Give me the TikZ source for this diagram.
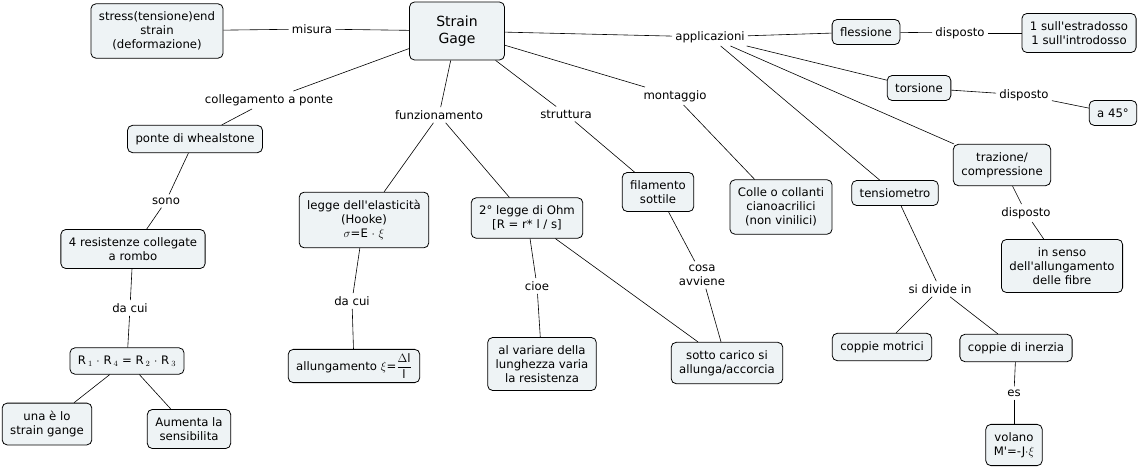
\documentclass[tikz,border=0pt]{standalone}
\usepackage{fontspec}
\setmainfont{DejaVu Sans}
\definecolor{conceptfill}{HTML}{EEF3F5}
\tikzstyle{concept}=[draw,rounded corners=5pt,fill=conceptfill,align=center,inner xsep=8pt,inner ysep=8pt,line width=0.8pt]
\tikzstyle{link}=[align=center,inner sep=3pt]

\begin{document}
\begin{tikzpicture}[-, x=1pt, y=-1pt, line width=0.6pt, font=\fontsize{11.7}{14}\selectfont]
		\useasboundingbox (0,0) rectangle (1142,468);
		% concepts
		\node [concept,minimum width=95pt,minimum height=58pt,font=\fontsize{14}{17}\selectfont] (gage) at (457,31) {Strain\\Gage};
		\node [concept] (stress)   at (157,31)  {stress(tensione)end\\strain\\(deformazione)};
		\node [concept] (ponte)    at (195,139) {ponte di whealstone};
		\node [concept] (rombo)    at (133,249) {4 resistenze collegate\\a rombo};
		\node [concept] (formula)  at (127,361) {R\,$_1$ $\cdot$ R\,$_4$ = R\,$_2$ $\cdot$ R\,$_3$};
		\node [concept] (unaelo)   at (47,424)  {una è lo\\strain gange};
		\node [concept] (aumenta)  at (189,429) {Aumenta la\\sensibilita};
		\node [concept] (hooke)    at (364,220) {legge dell\textquotesingle elasticità\\(Hooke)\\$\sigma$=E $\cdot$ $\xi$};
		\node [concept,inner ysep=4pt] (allung) at (354,366) {allungamento $\xi$=$\displaystyle\frac{\Delta\mbox{l}}{\mbox{l}}$};
		\node [concept] (ohm)      at (527,218) {2° legge di Ohm\\{[R = r* l / s]}};
		\node [concept] (variare)  at (542,364) {al variare della\\lunghezza varia\\la resistenza};
		\node [concept] (filam)    at (658,192) {filamento\\sottile};
		\node [concept] (carico)   at (727,363) {sotto carico si\\allunga/accorcia};
		\node [concept] (colle)    at (781,207) {Colle o collanti\\cianoacrilici\\(non vinilici)};
		\node [concept] (fless)    at (866,32)  {flessione};
		\node [concept] (estrad)   at (1079,33) {1 sull\textquotesingle estradosso\\1 sull\textquotesingle introdosso};
		\node [concept] (tors)     at (919,88)  {torsione};
		\node [concept] (a45)      at (1113,113) {a 45°};
		\node [concept] (trazione) at (1002,165) {trazione/\\compressione};
		\node [concept] (fibre)    at (1062,266) {in senso\\dell\textquotesingle allungamento\\delle fibre};
		\node [concept] (tensiom)  at (895,193) {tensiometro};
		\node [concept] (motrici)  at (882,347) {coppie motrici};
		\node [concept] (inerzia)  at (1016,348) {coppie di inerzia};
		\node [concept] (volano)   at (1014,445) {volano\\M\textquotesingle =-J$\cdot\xi$};
		% link labels
		\node [link] (misura)   at (312,29)  {misura};
		\node [link] (collpon)  at (269,100) {collegamento a ponte};
		\node [link] (sono)     at (166,201) {sono};
		\node [link] (dacui1)   at (130,308) {da cui};
		\node [link] (funz)     at (439,115) {funzionamento};
		\node [link] (dacui2)   at (352,301) {da cui};
		\node [link] (cioe)     at (537,286) {cioe};
		\node [link] (strutt)   at (566,114) {struttura};
		\node [link] (cosa)     at (702,275) {cosa\\avviene};
		\node [link] (montag)   at (675,96)  {montaggio};
		\node [link] (applic)   at (710,37)  {applicazioni};
		\node [link] (disp1)    at (960,33)  {disposto};
		\node [link] (disp2)    at (1024,95) {disposto};
		\node [link] (disp3)    at (1026,213) {disposto};
		\node [link] (divide)   at (940,289) {si divide in};
		\node [link] (es)       at (1014,393) {es};

		\draw (gage)     edge (misura);
		\draw (misura)   edge (stress);
		\draw (gage)     edge (collpon);
		\draw (collpon)  edge (ponte);
		\draw (ponte)    edge (sono);
		\draw (sono)     edge (rombo);
		\draw (rombo)    edge (dacui1);
		\draw (dacui1)   edge (formula);
		\draw (formula)  edge (unaelo);
		\draw (formula)  edge (aumenta);
		\draw (gage)     edge (funz);
		\draw (funz)     edge (hooke);
		\draw (funz)     edge (ohm);
		\draw (hooke)    edge (dacui2);
		\draw (dacui2)   edge (allung);
		\draw (ohm)      edge (cioe);
		\draw (cioe)     edge (variare);
		\draw (ohm)      edge (carico);
		\draw (gage)     edge (strutt);
		\draw (strutt)   edge (filam);
		\draw (filam)    edge (cosa);
		\draw (cosa)     edge (carico);
		\draw (gage)     edge (montag);
		\draw (montag)   edge (colle);
		\draw (gage)     edge (applic);
		\draw (applic)   edge (fless);
		\draw (applic)   edge (tors);
		\draw (applic)   edge (trazione);
		\draw (applic)   edge (tensiom);
		\draw (fless)    edge (disp1);
		\draw (disp1)    edge (estrad);
		\draw (tors)     edge (disp2);
		\draw (disp2)    edge (a45);
		\draw (trazione) edge (disp3);
		\draw (disp3)    edge (fibre);
		\draw (tensiom)  edge (divide);
		\draw (divide)   edge (motrici);
		\draw (divide)   edge (inerzia);
		\draw (inerzia)  edge (es);
		\draw (es)       edge (volano);
	\end{tikzpicture}
\end{document}
